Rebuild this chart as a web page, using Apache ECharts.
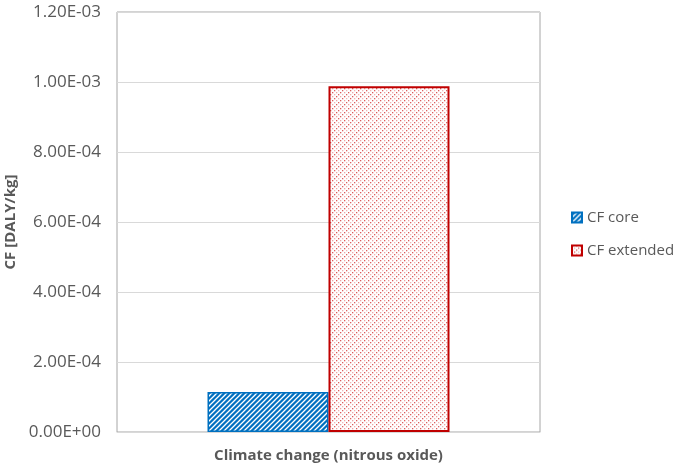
<!DOCTYPE html>
<html><head><meta charset="utf-8">
<script src="https://cdn.jsdelivr.net/npm/echarts@6/dist/echarts.min.js"></script>
<style>html,body{margin:0;padding:0;background:#fff}#c{width:676px;height:466px}</style>
</head><body><div id="c"></div>
<script>
const categories = ['Climate change (nitrous oxide)'];
const seriesNames = ['CF core', 'CF extended'];
const cfCore = [1.14e-4];
const cfExtended = [9.88e-4];
const yTicks = [0, 2e-4, 4e-4, 6e-4, 8e-4, 1e-3, 1.2e-3];

function bluePattern() {
  const c = document.createElement('canvas'); c.width = 5; c.height = 5;
  const g = c.getContext('2d');
  g.fillStyle = '#0070C0'; g.fillRect(0, 0, 5, 5);
  g.strokeStyle = '#ffffff'; g.lineWidth = 1.3;
  g.beginPath();
  g.moveTo(-1, 6); g.lineTo(6, -1);
  g.moveTo(-1, 1); g.lineTo(1, -1);
  g.moveTo(4, 6); g.lineTo(6, 4);
  g.stroke();
  return c;
}
function redPattern() {
  const c = document.createElement('canvas'); c.width = 8; c.height = 8;
  const g = c.getContext('2d');
  g.fillStyle = '#ffffff'; g.fillRect(0, 0, 8, 8);
  const dots = [[0,0,'#dc5a5a'],[4,0,'#eca4a4'],[2,2,'#f0b4b4'],[6,2,'#dc6060'],[0,4,'#eca4a4'],[4,4,'#dc5a5a'],[2,6,'#dc6060'],[6,6,'#f0b4b4']];
  dots.forEach(d => { g.fillStyle = d[2]; g.fillRect(d[0], d[1], 1.3, 1.3); });
  return c;
}
function fmt(v) {
  if (v === 0) return '0.00E+00';
  let e = Math.floor(Math.log10(Math.abs(v)) + 1e-9);
  let m = v / Math.pow(10, e);
  if (m >= 9.995) { m /= 10; e += 1; }
  const sign = e < 0 ? '-' : '+';
  const ea = Math.abs(e);
  return m.toFixed(2) + 'E' + sign + (ea < 10 ? '0' + ea : '' + ea);
}
const chart = echarts.init(document.getElementById('c'));
const txt = '#595959';
const font = '"Open Sans", "Noto Sans", sans-serif';
chart.setOption({
  animation: false,
  textStyle: { fontFamily: font },
  grid: { left: 117, top: 12, width: 423, height: 420, show: true, borderColor: '#a6a6a6', borderWidth: 1,
          containLabel: false, outerBoundsMode: 'none' },
  legend: {
    orient: 'vertical', left: 566, top: 205, itemGap: 18, itemWidth: 10, itemHeight: 10,
    icon: 'rect',
    textStyle: { color: txt, fontSize: 15, fontFamily: font },
    data: seriesNames
  },
  xAxis: {
    type: 'category', data: categories,
    axisLine: { lineStyle: { color: '#d9d9d9' } },
    axisTick: { show: false },
    axisLabel: { color: txt, fontSize: 15, fontWeight: 'bold', margin: 16 }
  },
  yAxis: {
    type: 'value', min: 0, max: yTicks[yTicks.length - 1], interval: yTicks[1] - yTicks[0],
    name: 'CF [DALY/kg]', nameLocation: 'middle', nameGap: 92, nameRotate: 90,
    nameTextStyle: { color: txt, fontSize: 15, fontWeight: 'bold' },
    axisLabel: { color: txt, fontSize: 17, margin: 16, formatter: fmt },
    splitLine: { lineStyle: { color: '#d9d9d9' } },
    axisLine: { show: false }, axisTick: { show: false }
  },
  series: [
    { name: seriesNames[0], type: 'bar', data: cfCore, barWidth: 121, barGap: '0%',
      itemStyle: { color: { image: bluePattern(), repeat: 'repeat' }, borderColor: '#0070C0', borderWidth: 1.5 } },
    { name: seriesNames[1], type: 'bar', data: cfExtended, barWidth: 121,
      itemStyle: { color: { image: redPattern(), repeat: 'repeat' }, borderColor: '#C00000', borderWidth: 2 } }
  ]
});
</script></body></html>
